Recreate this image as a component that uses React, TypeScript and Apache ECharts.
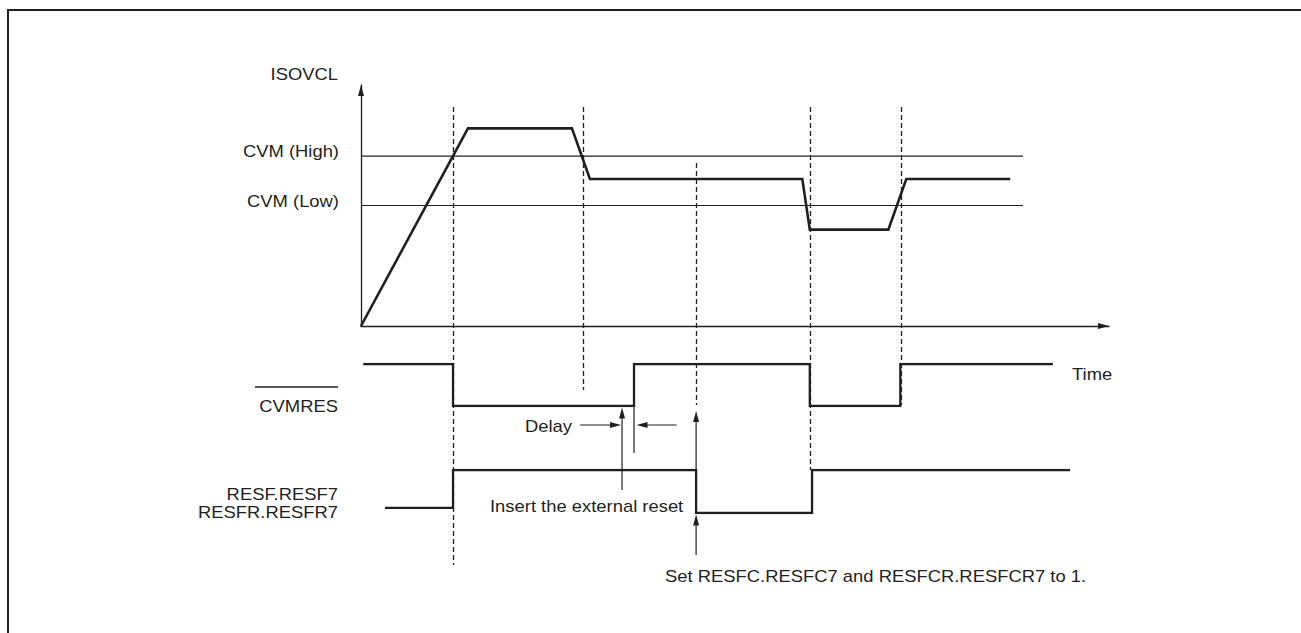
import React, { useEffect, useRef } from "react";
import * as echarts from "echarts";

const FONT = '"Liberation Sans", Arial, Helvetica, sans-serif';
const INK = "#231f20";

// ---- data (time in arbitrary units 0..100, ISOVCL level 0..100, digital 0/1) ----
const timeMin = 0;
const timeMax = 100;
const levelMin = 0;
const levelMax = 100;

const cvmHighLevel = 70.5;
const cvmLowLevel = 50;
const thresholdEndTime = 88.5;

const isovclTimes = [0, 14.3, 28.2, 30.6, 59.0, 60.0, 70.5, 72.9, 86.8];
const isovclLevels = [0, 82, 82, 61, 61, 40, 40, 61, 61];

const cvmresTimes = [0.3, 12.3, 12.3, 36.5, 36.5, 60.0, 60.0, 72.1, 72.1, 92.5];
const cvmresLevels = [1, 1, 0, 0, 1, 1, 0, 0, 1, 1];

const resfTimes = [3.2, 12.3, 12.3, 44.8, 44.8, 60.3, 60.3, 94.8];
const resfLevels = [0.12, 0.12, 1, 1, 0, 0, 1, 1];

// event markers (dashed verticals)
const eventTimes = [12.3, 29.7, 44.8, 60.0, 72.2];
const insertResetTime = 34.9;
const cvmresReleaseTime = 36.5;
const setFlagTime = 44.8;
const delayArrowStartTimes = [29.3, 42.2];

// labels
const signalLabels = ["ISOVCL", "CVM (High)", "CVM (Low)", "CVMRES", "RESF.RESF7", "RESFR.RESFR7"];
const noteDelay = "Delay";
const noteInsert = "Insert the external reset";
const noteSet = "Set RESFC.RESFC7 and RESFCR.RESFCR7 to 1.";
const timeLabel = "Time";

// ---- layout (pixels) ----
const eventSpans = [
  [107, 565],
  [107, 390],
  [163, 405],
  [107, 470],
  [107, 405],
];

const zip = (a: number[], b: number[]) => a.map((v, i) => [v, b[i]]);

function arrowHead(x: number, y: number, dir: "up" | "right" | "left", len = 11, half = 3) {
  let pts: number[][];
  if (dir === "up") pts = [[x, y], [x - half, y + len], [x + half, y + len]];
  else if (dir === "right") pts = [[x, y], [x - len, y - half], [x - len, y + half]];
  else pts = [[x, y], [x + len, y - half], [x + len, y + half]];
  return { type: "polygon", shape: { points: pts }, style: { fill: INK, stroke: "none" } };
}

function seg(x1: number, y1: number, x2: number, y2: number, width = 1.2, dash?: number[]) {
  return {
    type: "line",
    shape: { x1, y1, x2, y2 },
    style: { stroke: INK, lineWidth: width, lineDash: dash },
  };
}

function label(text: string, x: number, y: number, align: "left" | "right") {
  return {
    type: "text",
    x,
    y,
    scaleX: 1.15,
    style: {
      text,
      fontSize: 16,
      fontFamily: FONT,
      fill: INK,
      align,
      verticalAlign: "middle",
    },
  };
}

export default function App() {
  const ref = useRef<HTMLDivElement>(null);

  useEffect(() => {
    const chart = echarts.init(ref.current!, null, { renderer: "svg" });
    const axisLine = {
      show: true,
      lineStyle: { color: INK, width: 1.3 },
      symbol: ["none", "triangle"],
      symbolSize: [6, 11],
      symbolOffset: [0, -5.5],
    };
    const visibleAxis = (min: number, max: number) => ({
      type: "value",
      gridIndex: 0,
      min,
      max,
      axisLine,
      axisTick: { show: false },
      axisLabel: { show: false },
      splitLine: { show: false },
    });
    const hiddenAxis = (gridIndex: number, min: number, max: number) => ({
      type: "value",
      gridIndex,
      min,
      max,
      show: false,
      splitLine: { show: false },
    });
    const lineSeries = (xi: number, data: number[][], width: number) => ({
      type: "line",
      xAxisIndex: xi,
      yAxisIndex: xi,
      data,
      showSymbol: false,
      symbol: "none",
      silent: true,
      lineStyle: { color: INK, width, join: "miter", cap: "butt" },
    });

    chart.setOption({
      animation: false,
      grid: [
        { left: 361, top: 85, width: 748, height: 241 },
        { left: 361, top: 364, width: 748, height: 42 },
        { left: 361, top: 470, width: 748, height: 43 },
      ],
      xAxis: [visibleAxis(timeMin, timeMax), hiddenAxis(1, timeMin, timeMax), hiddenAxis(2, timeMin, timeMax)],
      yAxis: [visibleAxis(levelMin, levelMax), hiddenAxis(1, 0, 1), hiddenAxis(2, 0, 1)],
      series: [
        lineSeries(0, [[0, cvmHighLevel], [thresholdEndTime, cvmHighLevel]], 1.2),
        lineSeries(0, [[0, cvmLowLevel], [thresholdEndTime, cvmLowLevel]], 1.2),
        lineSeries(0, zip(isovclTimes, isovclLevels), 2.6),
        lineSeries(1, zip(cvmresTimes, cvmresLevels), 2.3),
        lineSeries(2, zip(resfTimes, resfLevels), 2.3),
      ],
    });

    const px = (t: number) => (chart.convertToPixel({ gridIndex: 0 }, [t, 0]) as number[])[0];
    const py = (g: number, v: number) => (chart.convertToPixel({ gridIndex: g }, [0, v]) as number[])[1];

    const cvmresLow = py(1, 0);
    const resfHigh = py(2, 1);
    const resfLow = py(2, 0);
    const yHigh = py(0, cvmHighLevel);
    const yLow = py(0, cvmLowLevel);
    const delayY = 425;

    const elements: any[] = [];
    // frame: left and top edges (the rest lies outside the picture)
    elements.push(seg(8, 9, 8, 660, 2));
    elements.push(seg(7, 10, 1340, 10, 2));
    // dashed event markers
    eventTimes.forEach((t, i) => {
      const x = Math.round(px(t)) + 0.5;
      elements.push(seg(x, eventSpans[i][0], x, eventSpans[i][1], 1.3, [5, 3]));
    });
    // labels
    elements.push(label(signalLabels[0], 338, 74, "right"));
    elements.push(label(signalLabels[1], 339, yHigh - 5, "right"));
    elements.push(label(signalLabels[2], 339, yLow - 4.5, "right"));
    elements.push(label(signalLabels[3], 338, 406, "right"));
    elements.push(seg(255, 387, 338, 387, 1.6));
    elements.push(label(signalLabels[4], 338, 494, "right"));
    elements.push(label(signalLabels[5], 338, 512, "right"));
    elements.push(label(timeLabel, 1072, 374, "left"));

    // Delay annotation
    const xInsert = px(insertResetTime);
    const xRelease = px(cvmresReleaseTime);
    elements.push(label(noteDelay, 525, 426, "left"));
    elements.push(seg(px(delayArrowStartTimes[0]), delayY, xInsert - 8, delayY));
    elements.push(arrowHead(xInsert - 1, delayY, "right"));
    elements.push(seg(px(delayArrowStartTimes[1]), delayY, xRelease + 10, delayY));
    elements.push(arrowHead(xRelease + 2.5, delayY, "left"));
    elements.push(seg(xRelease, cvmresLow, xRelease, 453));
    // insert reset arrow
    elements.push(seg(xInsert, 490, xInsert, cvmresLow + 8));
    elements.push(arrowHead(xInsert, cvmresLow + 1.5, "up"));
    elements.push(label(noteInsert, 490, 506, "left"));

    // set flag arrows
    const xSet = px(setFlagTime);
    elements.push(seg(xSet, resfHigh, xSet, 418));
    elements.push(arrowHead(xSet, 411, "up"));
    elements.push(seg(xSet, 555, xSet, resfLow + 8));
    elements.push(arrowHead(xSet, resfLow + 1.5, "up"));
    elements.push(label(noteSet, 665, 576, "left"));

    chart.setOption({ graphic: { elements } });

    return () => chart.dispose();
  }, []);

  return (
    <div
      ref={ref}
      style={{ position: "fixed", left: 0, top: 0, width: 1330, height: 660, background: "#fff", overflow: "hidden" }}
    />
  );
}
